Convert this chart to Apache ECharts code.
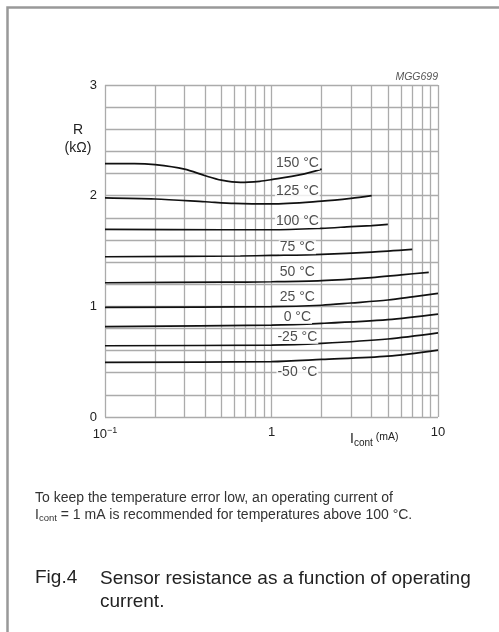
<!DOCTYPE html>
<html><head><meta charset="utf-8">
<script src="https://cdn.jsdelivr.net/npm/echarts@6/dist/echarts.min.js"></script>
<style>html,body{margin:0;padding:0;background:#fff}#c{width:499px;height:632px}</style>
</head><body><div id="c"></div>
<script>
// ---- data ----
const xTicks = [0.1, 1, 10];
const yTicks = [0, 1, 2, 3];
const minorX = [0.2,0.3,0.4,0.5,0.6,0.7,0.8,0.9,2,3,4,5,6,7,8,9];

const i150 = [0.1, 0.15, 0.2, 0.3, 0.4, 0.5, 0.65, 0.85, 1.0, 1.5, 2.0];
const r150 = [2.29, 2.29, 2.28, 2.24, 2.18, 2.14, 2.12, 2.13, 2.145, 2.19, 2.24];
const i125 = [0.1, 0.2, 0.4, 0.6, 1.0, 2.0, 3.0, 4.0];
const r125 = [1.98, 1.97, 1.945, 1.93, 1.925, 1.95, 1.975, 2.0];
const i100 = [0.1, 0.5, 1.0, 2.0, 3.0, 4.0, 5.0];
const r100 = [1.695, 1.692, 1.692, 1.705, 1.72, 1.73, 1.74];
const i75 = [0.1, 0.65, 1.0, 2.0, 4.0, 7.0];
const r75 = [1.448, 1.455, 1.46, 1.47, 1.49, 1.515];
const i50 = [0.1, 0.5, 1.0, 2.0, 4.0, 6.0, 8.8];
const r50 = [1.213, 1.218, 1.222, 1.232, 1.26, 1.285, 1.307];
const i25 = [0.1, 1, 2, 3, 5, 7, 10];
const r25 = [0.99, 0.997, 1.01, 1.03, 1.057, 1.085, 1.117];
const i0 = [0.1, 1, 2, 5, 10];
const r0 = [0.816, 0.83, 0.846, 0.88, 0.93];
const im25 = [0.1, 1, 2, 5, 10];
const rm25 = [0.644, 0.65, 0.666, 0.705, 0.76];
const im50 = [0.1, 1, 2, 5, 10];
const rm50 = [0.494, 0.50, 0.52, 0.55, 0.605];

const tempLabels = ['150 °C','125 °C','100 °C','75 °C','50 °C','25 °C','0 °C','-25 °C','-50 °C'];
const labelI = [1.43,1.43,1.43,1.43,1.43,1.43,1.43,1.43,1.43];
const labelR = [2.295, 2.04, 1.77, 1.535, 1.31, 1.084, 0.904, 0.723, 0.407];

const curves = [[i150,r150],[i125,r125],[i100,r100],[i75,r75],[i50,r50],[i25,r25],[i0,r0],[im25,rm25],[im50,rm50]];

const FONT = "'Liberation Sans', Arial, sans-serif";
const GRID = '#ababab';
const TXT = '#222';
const chart = echarts.init(document.getElementById('c'), null, {renderer:'canvas'});

const series = curves.map((c, k) => ({
  type: 'line', name: tempLabels[k],
  data: c[0].map((x, j) => [x, c[1][j]]),
  smooth: 0.3,
  showSymbol: false, symbol: 'none',
  lineStyle: {color: '#111', width: 1.7},
  z: 5, silent: true
}));
series.push({
  type: 'line', data: [], silent: true, z: 1,
  markLine: {
    silent: true, symbol: ['none','none'],
    label: {show: false},
    lineStyle: {color: GRID, width: 1.3, type: 'solid'},
    data: minorX.map(v => ({xAxis: v}))
  }
});
series.push({
  type: 'scatter', silent: true, z: 10,
  symbolSize: 0,
  data: labelI.map((x, k) => [x, labelR[k], tempLabels[k]]),
  label: {
    show: true, position: 'inside',
    formatter: p => p.data[2],
    color: TXT, fontFamily: FONT, fontSize: 14,
    backgroundColor: '#fff', padding: [0, 1]
  }
});

const option = {
  animation: false,
  backgroundColor: '#fff',
  grid: {left: 105, right: 61, top: 85, bottom: 215, containLabel: false},
  xAxis: {
    type: 'log', logBase: 10, min: 0.1, max: 10,
    axisLine: {show: false},
    axisTick: {show: false},
    splitLine: {show: true, lineStyle: {color: GRID, width: 1.3}},
    axisLabel: {
      margin: 9, color: TXT, fontFamily: FONT, fontSize: 13,
      formatter: v => {
        const e = Math.round(Math.log10(v));
        if (e < 0) return '10{s|−1}';
        return e === 0 ? '1' : '10';
      },
      rich: {s: {fontSize: 9, verticalAlign: 'top', color: TXT, fontFamily: FONT, padding: [0,0,7,0]}}
    }
  },
  yAxis: {
    type: 'value', min: 0, max: 3, interval: 1,
    axisLine: {show: false},
    axisTick: {show: false},
    splitLine: {show: true, lineStyle: {color: GRID, width: 1.3}},
    minorTick: {show: false, splitNumber: 5},
    minorSplitLine: {show: true, lineStyle: {color: GRID, width: 1.3}},
    axisLabel: {margin: 8, color: TXT, fontFamily: FONT, fontSize: 13}
  },
  series: series,
  graphic: [
    {type: 'polyline', silent: true, shape: {points: [[7.5, 640],[7.5, 7.5],[510, 7.5]]},
     style: {stroke: '#999', lineWidth: 2.5, fill: null}},
    {type: 'text', x: 78, y: 130, style: {text: 'R', font: '14px ' + FONT, fill: TXT, align: 'center', verticalAlign: 'middle'}},
    {type: 'text', x: 78, y: 148, style: {text: '(kΩ)', font: '14px ' + FONT, fill: TXT, align: 'center', verticalAlign: 'middle'}},
    {type: 'text', x: 438, y: 77, style: {text: 'MGG699', font: 'italic 10.5px ' + FONT, fill: '#555', align: 'right', verticalAlign: 'middle'}},
    {type: 'text', x: 350, y: 430, style: {
      text: '{i|I}{sub|cont}{u| (mA)}',
      rich: {
        i: {font: '14px ' + FONT, fill: TXT},
        sub: {font: '10px ' + FONT, fill: TXT, padding: [8,0,0,0]},
        u: {font: '10.5px ' + FONT, fill: TXT, padding: [0,0,4,0]}
      }}},
    {type: 'text', x: 35, y: 498, style: {
      text: 'To keep the temperature error low, an operating current of',
      font: '14px ' + FONT, fill: '#333', verticalAlign: 'middle'}},
    {type: 'text', x: 35, y: 507, style: {
      text: '{i|I}{sub|cont}{t| = 1 mA is recommended for temperatures above 100 °C.}',
      rich: {
        i: {font: '14px ' + FONT, fill: '#333'},
        sub: {font: '9.5px ' + FONT, fill: '#333', padding: [6,0,0,0]},
        t: {font: '14px ' + FONT, fill: '#333'}
      }}},
    {type: 'text', x: 35, y: 578, style: {text: 'Fig.4', font: '19px ' + FONT, fill: TXT, verticalAlign: 'middle'}},
    {type: 'text', x: 100, y: 567, style: {
      text: 'Sensor resistance as a function of operating\ncurrent.',
      font: '19px ' + FONT, fill: TXT, lineHeight: 23}}
  ]
};
chart.setOption(option);
</script>
</body></html>
